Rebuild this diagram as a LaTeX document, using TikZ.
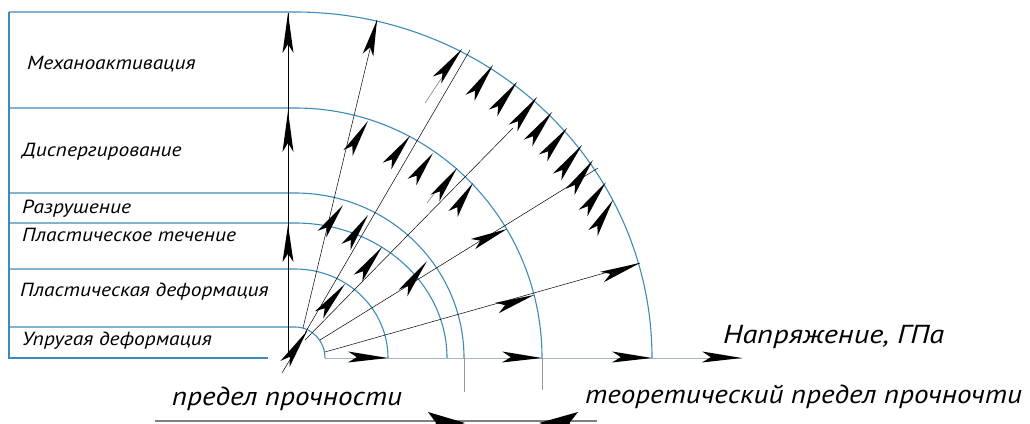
\documentclass[tikz,border=0pt]{standalone}
\usepackage{graphicx}
\usepackage{fontspec}
\setmainfont{PT Sans}
\usetikzlibrary{calc}
\definecolor{arcblue}{RGB}{60,140,185}
\definecolor{axisgray}{RGB}{165,180,195}
\definecolor{tickgray}{RGB}{150,150,150}
\newcommand{\spear}[3][5.5pt]{\fill[black] (#2) -- ($(#3)!#1!90:(#2)$) -- ($(#3)!0.22!(#2)$) -- ($(#3)!#1!-90:(#2)$) -- cycle;}
\newcommand{\wide}[2]{\scalebox{#1}[1]{#2}}
\begin{document}
\begin{tikzpicture}[x=1pt,y=-1pt,
  band/.style={arcblue,line width=1.1pt},
  ray/.style={black,line width=0.5pt},
  tail/.style={gray,line width=0.6pt},
  lab/.style={font=\itshape\fontsize{19}{21}\selectfont, anchor=west, inner sep=0pt},
  biglab/.style={font=\itshape\fontsize{26}{28}\selectfont, anchor=west, inner sep=0pt}]
\useasboundingbox (0,0) rectangle (1030,423);
\clip (0,0) rectangle (1030,423);
\fill[white] (0,0) rectangle (1030,423);
% frame and bands
\draw[band] (9,12) -- (9,358) -- (268,358);
\draw[band] (9,327) -- (295,327) arc[start angle=-90, end angle=0, x radius=30, y radius=31];
\draw[band] (9,269) -- (295,269) arc[start angle=-90, end angle=0, x radius=93, y radius=89];
\draw[band] (9,223) -- (295,223) arc[start angle=-90, end angle=0, x radius=152, y radius=135];
\draw[band] (9,193) -- (295,193) arc[start angle=-90, end angle=0, x radius=169, y radius=165];
\draw[band] (9,108) -- (295,108) arc[start angle=-90, end angle=0, x radius=247, y radius=250];
\draw[band] (9,12) -- (295,12) arc[start angle=-90, end angle=0, x radius=357, y radius=346];
% axis and ticks
\draw[axisgray,line width=0.9pt] (325,358) -- (742,358);
\draw[tickgray,line width=0.8pt] (464,358) -- (464,392);
\draw[tickgray,line width=0.8pt] (542,358) -- (542,390);
\draw[gray,line width=1.3pt] (155,421) -- (597,421);
\spear[11pt]{465,423}{428,423}
\spear[11pt]{539,423}{578,423}
% rays
\draw[ray] (288,13) -- (288,352);
\draw[ray] (303,328) -- (377,20);
\draw[ray] (305,333) -- (470,50);
\draw[ray] (305,340) -- (513,128);
\draw[ray] (320,340) -- (598,168);
\draw[ray] (325,352) -- (640,263);
\draw[ray] (282,373) -- (307,331);
\draw[tail] (425,103) -- (447,70);
\draw[tail] (427,203) -- (437,190);
% arrowheads on vertical
\spear{288,13}{288,53}
\spear{288,111}{288,152}
\spear{288,225}{288,262}
% outer row
\spear{377,20}{368,55}
\spear{462,49}{437,80}
\spear{493,65}{470,98}
\spear{517,82}{493,113}
\spear{537,97}{513,128}
\spear{552,112}{528,143}
\spear{567,128}{543,158}
\spear{582,145}{557,177}
\spear{593,160}{570,192}
\spear{606,182}{583,213}
\spear{613,200}{593,233}
% middle row
\spear{368,121}{348,153}
\spear{410,136}{387,166}
\spear{433,153}{412,182}
\spear{457,168}{435,198}
\spear{473,183}{453,214}
% inner
\spear{343,205}{322,234}
\spear{368,215}{346,247}
\spear{382,247}{358,278}
\spear{427,261}{403,293}
\spear{345,284}{319,315}
\spear{307,331}{285,364}
\spear{507,229}{473,244}
\spear{640,263}{602,277}
\spear{534,295}{497,308}
\spear{388,358}{348,357}
\spear{542,358}{502,357}
\spear{652,358}{612,357}
\spear{742,358}{702,357}
% labels
\node[lab] (m) at (27,64) {\wide{1.13}{Механоактивация}};
\node[lab] (d) at (22,152) {\wide{1.13}{Диспергирование}};
\node[lab] (r) at (22,209) {\wide{1.13}{Разрушение}};
\node[lab] (pt) at (22,235) {\wide{1.13}{Пластическое течение}};
\node[lab] (pd) at (20,292) {\wide{1.13}{Пластическая деформация}};
\node[lab] (u) at (22,341) {\wide{1.13}{Упругая деформация}};
\node[biglab] (np) at (723,337) {\wide{1.17}{Напряжение, ГПа}};
\node[biglab] (pp) at (172,399) {\wide{1.12}{предел прочности}};
\node[biglab] (tp) at (585,397) {\wide{1.12}{теоретический предел прочночти}};
\end{tikzpicture}
\end{document}
